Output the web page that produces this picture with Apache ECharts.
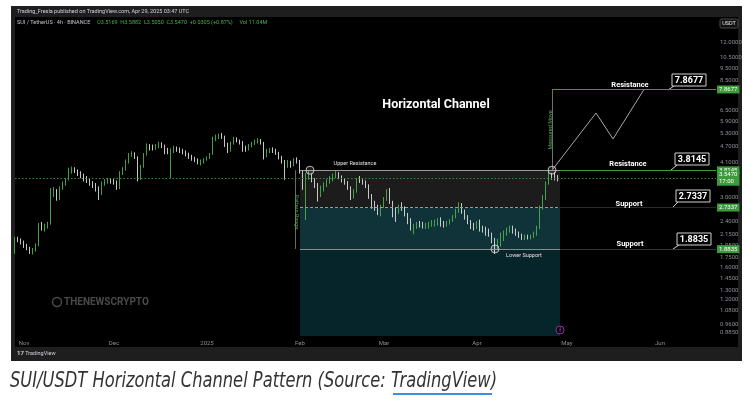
<!DOCTYPE html>
<html><head><meta charset="utf-8">
<script src="https://cdn.jsdelivr.net/npm/echarts@6/dist/echarts.min.js"></script>
<style>html,body{margin:0;padding:0;background:#fff}#c{width:750px;height:407px}</style>
</head><body><div id="c"></div>
<script>
// ---- daily candles ----
const dates = [
'2024-10-29','2024-10-30','2024-10-31',
'2024-11-01','2024-11-02','2024-11-03','2024-11-04','2024-11-05','2024-11-06','2024-11-07','2024-11-08','2024-11-09','2024-11-10',
'2024-11-11','2024-11-12','2024-11-13','2024-11-14','2024-11-15','2024-11-16','2024-11-17','2024-11-18','2024-11-19','2024-11-20',
'2024-11-21','2024-11-22','2024-11-23','2024-11-24','2024-11-25','2024-11-26','2024-11-27','2024-11-28','2024-11-29','2024-11-30',
'2024-12-01','2024-12-02','2024-12-03','2024-12-04','2024-12-05','2024-12-06','2024-12-07','2024-12-08','2024-12-09','2024-12-10',
'2024-12-11','2024-12-12','2024-12-13','2024-12-14','2024-12-15','2024-12-16','2024-12-17','2024-12-18','2024-12-19','2024-12-20',
'2024-12-21','2024-12-22','2024-12-23','2024-12-24','2024-12-25','2024-12-26','2024-12-27','2024-12-28','2024-12-29','2024-12-30','2024-12-31',
'2025-01-01','2025-01-02','2025-01-03','2025-01-04','2025-01-05','2025-01-06','2025-01-07','2025-01-08','2025-01-09','2025-01-10',
'2025-01-11','2025-01-12','2025-01-13','2025-01-14','2025-01-15','2025-01-16','2025-01-17','2025-01-18','2025-01-19','2025-01-20',
'2025-01-21','2025-01-22','2025-01-23','2025-01-24','2025-01-25','2025-01-26','2025-01-27','2025-01-28','2025-01-29','2025-01-30','2025-01-31',
'2025-02-01','2025-02-02','2025-02-03','2025-02-04','2025-02-05','2025-02-06','2025-02-07','2025-02-08','2025-02-09','2025-02-10',
'2025-02-11','2025-02-12','2025-02-13','2025-02-14','2025-02-15','2025-02-16','2025-02-17','2025-02-18','2025-02-19','2025-02-20',
'2025-02-21','2025-02-22','2025-02-23','2025-02-24','2025-02-25','2025-02-26','2025-02-27','2025-02-28',
'2025-03-01','2025-03-02','2025-03-03','2025-03-04','2025-03-05','2025-03-06','2025-03-07','2025-03-08','2025-03-09','2025-03-10',
'2025-03-11','2025-03-12','2025-03-13','2025-03-14','2025-03-15','2025-03-16','2025-03-17','2025-03-18','2025-03-19','2025-03-20',
'2025-03-21','2025-03-22','2025-03-23','2025-03-24','2025-03-25','2025-03-26','2025-03-27','2025-03-28','2025-03-29','2025-03-30','2025-03-31',
'2025-04-01','2025-04-02','2025-04-03','2025-04-04','2025-04-05','2025-04-06','2025-04-07','2025-04-08','2025-04-09','2025-04-10',
'2025-04-11','2025-04-12','2025-04-13','2025-04-14','2025-04-15','2025-04-16','2025-04-17','2025-04-18','2025-04-19','2025-04-20',
'2025-04-21','2025-04-22','2025-04-23','2025-04-24','2025-04-25','2025-04-26','2025-04-27','2025-04-28'];
const opens = [1.98,2.06,2.03,2.00,1.94,1.89,1.85,1.87,1.95,2.30,2.28,2.31,2.36,3.12,3.18,2.98,3.25,3.38,3.50,3.80,3.85,3.78,3.72,3.62,3.55,3.48,3.40,3.33,3.25,3.10,3.40,3.46,3.50,3.44,3.42,3.30,3.72,3.84,4.12,4.38,4.42,4.28,3.75,3.95,4.40,4.75,4.68,4.62,4.76,4.84,4.74,4.58,4.50,4.52,4.66,4.60,4.56,4.48,4.40,4.30,4.24,4.18,4.10,4.12,4.20,4.28,4.40,5.08,5.15,5.20,5.12,4.80,4.60,4.85,5.05,4.96,4.88,4.68,4.62,4.76,4.86,4.95,4.98,4.85,4.35,4.55,4.58,4.55,4.46,4.28,4.12,3.95,4.08,4.00,4.18,4.15,3.75,3.30,3.60,3.62,3.50,3.32,3.05,3.26,3.35,3.45,3.55,3.62,3.68,3.58,3.48,3.40,3.25,3.00,3.18,3.50,3.46,3.42,3.32,3.02,2.80,2.74,2.62,2.76,2.95,3.18,2.86,2.64,2.62,2.74,2.72,2.56,2.40,2.28,2.30,2.36,2.34,2.32,2.34,2.36,2.38,2.40,2.44,2.36,2.33,2.39,2.44,2.52,2.65,2.80,2.64,2.52,2.40,2.32,2.30,2.38,2.28,2.25,2.22,2.16,2.02,1.95,1.98,2.12,2.20,2.24,2.28,2.20,2.16,2.12,2.08,2.10,2.08,2.12,2.16,2.28,2.72,2.98,3.40,3.65,3.60,3.55];
const closes = [2.06,2.03,2.00,1.94,1.89,1.85,1.87,1.95,2.30,2.28,2.31,2.36,3.12,3.18,2.98,3.25,3.38,3.50,3.80,3.85,3.78,3.72,3.62,3.55,3.48,3.40,3.33,3.25,3.10,3.40,3.46,3.50,3.44,3.42,3.30,3.72,3.84,4.12,4.38,4.42,4.28,3.75,3.95,4.40,4.75,4.68,4.62,4.76,4.84,4.74,4.58,4.50,4.52,4.66,4.60,4.56,4.48,4.40,4.30,4.24,4.18,4.10,4.12,4.20,4.28,4.40,5.08,5.15,5.20,5.12,4.80,4.60,4.85,5.05,4.96,4.88,4.68,4.62,4.76,4.86,4.95,4.98,4.85,4.35,4.55,4.58,4.55,4.46,4.28,4.12,3.95,4.08,4.00,4.18,4.15,3.75,3.30,3.60,3.62,3.50,3.32,3.05,3.26,3.35,3.45,3.55,3.62,3.68,3.58,3.48,3.40,3.25,3.00,3.18,3.50,3.46,3.42,3.32,3.02,2.80,2.74,2.62,2.76,2.95,3.18,2.86,2.64,2.62,2.74,2.72,2.56,2.40,2.28,2.30,2.36,2.34,2.32,2.34,2.36,2.38,2.40,2.44,2.36,2.33,2.39,2.44,2.52,2.65,2.80,2.64,2.52,2.40,2.32,2.30,2.38,2.28,2.25,2.22,2.16,2.02,1.95,1.98,2.12,2.20,2.24,2.28,2.20,2.16,2.12,2.08,2.10,2.08,2.12,2.16,2.28,2.72,2.98,3.40,3.65,3.60,3.55,3.547];
const lows = [1.80,2.00,1.96,1.90,1.86,1.80,1.79,1.84,1.93,2.22,2.20,2.26,2.34,3.00,2.90,2.92,3.20,3.32,3.48,3.70,3.72,3.62,3.55,3.45,3.40,3.32,3.25,3.15,2.92,3.05,3.32,3.38,3.38,3.35,3.20,3.22,3.65,3.80,4.05,4.30,4.22,3.45,3.50,3.90,4.35,4.55,4.55,4.58,4.65,4.65,4.40,4.40,3.55,4.45,4.50,4.45,4.40,4.32,4.22,4.15,4.10,4.02,3.98,4.05,4.15,4.22,4.38,4.95,5.05,5.05,4.70,4.45,4.50,4.80,4.90,4.80,4.50,4.50,4.55,4.68,4.78,4.85,4.80,4.20,4.28,4.45,4.45,4.38,4.20,4.05,3.50,3.90,3.90,3.95,4.05,3.70,3.20,2.44,3.50,3.42,3.25,2.88,3.00,3.15,3.28,3.38,3.45,3.55,3.52,3.42,3.35,3.20,2.92,2.96,3.12,3.40,3.35,3.25,2.95,2.70,2.65,2.55,2.52,2.72,2.90,2.82,2.50,2.40,2.58,2.65,2.52,2.35,2.22,2.15,2.25,2.28,2.26,2.25,2.26,2.30,2.30,2.32,2.30,2.28,2.30,2.34,2.40,2.48,2.60,2.58,2.45,2.35,2.25,2.22,2.25,2.20,2.18,2.12,2.10,1.98,1.80,1.88,1.92,2.02,2.12,2.18,2.16,2.12,2.08,2.04,2.04,2.05,2.05,2.08,2.12,2.25,2.68,2.92,3.35,3.50,3.48,3.45];
const highs = [2.10,2.10,2.07,2.03,1.97,1.92,1.90,1.98,2.38,2.40,2.36,2.40,3.25,3.28,3.22,3.30,3.45,3.55,3.90,3.94,3.92,3.84,3.78,3.70,3.62,3.55,3.46,3.40,3.30,3.45,3.52,3.56,3.55,3.52,3.48,3.78,3.92,4.20,4.45,4.52,4.48,4.32,4.00,4.45,4.85,4.82,4.80,4.82,4.92,4.90,4.80,4.66,4.64,4.75,4.72,4.68,4.62,4.55,4.46,4.38,4.30,4.24,4.20,4.25,4.32,4.45,5.15,5.25,5.30,5.33,5.20,4.88,4.92,5.15,5.12,5.02,4.95,4.75,4.82,4.92,5.02,5.08,5.05,4.92,4.62,4.65,4.68,4.62,4.50,4.34,4.18,4.18,4.15,4.25,4.28,4.18,3.80,3.72,3.80,3.70,3.55,3.40,3.32,3.42,3.52,3.62,3.70,3.78,3.75,3.64,3.55,3.46,3.30,3.22,3.55,3.62,3.52,3.48,3.36,3.08,2.90,2.80,2.80,3.00,3.22,3.25,2.90,2.72,2.80,2.86,2.76,2.60,2.48,2.36,2.40,2.42,2.40,2.38,2.40,2.44,2.45,2.48,2.50,2.42,2.42,2.46,2.55,2.70,2.86,2.84,2.68,2.55,2.44,2.38,2.42,2.45,2.32,2.30,2.26,2.18,2.08,2.06,2.18,2.22,2.28,2.32,2.32,2.26,2.20,2.16,2.14,2.14,2.14,2.20,2.32,2.78,3.05,3.45,3.82,3.72,3.75,3.65];

// ---- price axis tick labels ----
const yTickValues = [12, 10.5, 9.5, 8.5, 6.5, 5.9, 5.3, 4.7, 4.1, 3.0, 2.4, 2.15, 1.95, 1.75, 1.6, 1.45, 1.3, 1.2, 1.08, 0.96, 0.885];
// ---- time axis labels by month index ----
const monthLabels = ['2025','Feb','Mar','Apr','May','Jun','Jul','Aug','Sep','Oct','Nov','Dec'];

// ---- drawn levels ----
const resistanceHigh = 7.8677;
const resistanceLow = 3.8145;
const supportHigh = 2.7337;
const supportLow = 1.8835;
const lastPrice = 3.547;
const rangeStart = '2025-02-01';
const rangeEnd = '2025-04-28 16:00';
const patternDate = '2025-01-30 08:00';
const moveDate = '2025-04-26';
const touchDates = ['2025-02-04 08:00', '2025-04-26', '2025-04-07'];
const touchValues = [3.8145, 3.8145, 1.8835];
const projDates = ['2025-04-26', '2025-05-10 16:00', '2025-05-16 08:00', '2025-05-26 16:00'];
const projValues = [3.8145, 6.37, 5.05, 7.8677];

const X_MIN = '2024-10-29', X_MAX = '2025-06-19 16:00';
const Y_MIN = 0.8626, Y_MAX = 15.07;
const UP = '#4caf50', DOWN = '#dcdcdc', TAG = '#3d9a3d';
const FONT = 'Roboto, "Liberation Sans", sans-serif';
const CLEAR = 'rgba(0,0,0,0)';

const candleData = dates.map((d, i) => [d, opens[i], closes[i], lows[i], highs[i]]);

const chart = echarts.init(document.getElementById('c'));

function tag(v, text) {
  return { yAxis: v, lineStyle: { color: CLEAR, width: 0 },
    label: { show: true, position: 'end', distance: 1, formatter: text, color: '#fff', backgroundColor: TAG,
      padding: [1, 2, 0, 2], fontSize: 6, fontFamily: FONT, lineHeight: 7 } };
}
function seg(x1, v1, x2, v2, style) {
  return [{ coord: [x1, v1], lineStyle: style, label: { show: false } }, { coord: [x2, v2] }];
}

function callout(x, y, text, tx, ty) {
  return { type: 'group', z: 60, children: [
    { type: 'line', shape: { x1: x + 2, y1: y + 12, x2: tx, y2: ty }, style: { stroke: '#d0d0d0', lineWidth: 1 } },
    { type: 'rect', shape: { x: x, y: y, width: 34, height: 12 }, style: { fill: '#000', stroke: '#d0d0d0', lineWidth: 1 } },
    { type: 'text', x: x + 17, y: y + 6.5, style: { text: text, fill: '#fff', font: 'bold 9px ' + FONT, align: 'center', verticalAlign: 'middle' } }
  ] };
}
function txt(x, y, text, size, color, extra) {
  return Object.assign({ type: 'text', x: x, y: y, z: 60,
    style: { text: text, fill: color, font: size, align: 'center', verticalAlign: 'middle' } }, extra || {});
}

chart.setOption({
  animation: false,
  backgroundColor: '#fff',
  grid: { left: 15, right: 34, top: 17, bottom: 71 },
  xAxis: {
    type: 'time', min: X_MIN, max: X_MAX, splitNumber: 8,
    minInterval: 28 * 86400000, maxInterval: 31 * 86400000,
    axisLine: { show: false }, axisTick: { show: false }, splitLine: { show: false },
    axisLabel: { color: '#8b8e96', fontSize: 6, fontFamily: FONT, margin: 4, hideOverlap: false,
      formatter: function (val) { return monthLabels[new Date(val).getMonth()]; } }
  },
  yAxis: {
    type: 'log', logBase: 10, min: Y_MIN, max: Y_MAX, position: 'right',
    axisLine: { show: false }, axisTick: { show: false }, splitLine: { show: false },
    axisLabel: { show: false }
  },
  graphic: { elements: [
    { type: 'rect', z: -10, shape: { x: 11, y: 6, width: 731, height: 355 }, style: { fill: '#1e1e1e' } },
    { type: 'rect', z: -9, shape: { x: 15, y: 17, width: 723, height: 330 }, style: { fill: '#000' } },
    { type: 'text', x: 17, y: 11.5, z: 60, style: { text: 'Trading_Fresla published on TradingView.com, Apr 29, 2025 03:47 UTC', fill: '#d1d4dc', font: '5.5px ' + FONT, align: 'left', verticalAlign: 'middle' } },
    { type: 'text', x: 17, y: 23, z: 60, style: {
      text: '{a|SUI / TetherUS · 4h · BINANCE}  {g|O3.5169  H3.5882  L3.5050  C3.5470  +0.0305 (+0.87%)}  {g|Vol 11.04M}',
      verticalAlign: 'middle', align: 'left',
      rich: { a: { fill: '#c0c3cb', font: '5.5px ' + FONT }, g: { fill: UP, font: '5.5px ' + FONT } } } },
    { type: 'rect', z: 60, shape: { x: 720, y: 19, width: 18, height: 9, r: 1.5 }, style: { fill: '#111', stroke: '#4a4a4a', lineWidth: 1 } },
    txt(729, 23.5, 'USDT', '5.5px ' + FONT, '#e0e0e0'),
    txt(436, 105, 'Horizontal Channel', 'bold 12.5px ' + FONT, '#fff'),
    txt(355, 164, 'Upper Resistance', '5.5px ' + FONT, '#e0e0e0'),
    txt(524, 256, 'Lower Support', '5.5px ' + FONT, '#e0e0e0'),
    txt(296, 212, 'Pattern Range', '5.5px ' + FONT, UP, { rotation: -Math.PI / 2 }),
    txt(551, 130, 'Measured Move', '5.5px ' + FONT, UP, { rotation: Math.PI / 2 }),
    txt(630, 85, 'Resistance', 'bold 7.5px ' + FONT, '#fff'),
    txt(628, 164, 'Resistance', 'bold 7.5px ' + FONT, '#fff'),
    txt(629, 204, 'Support', 'bold 7.5px ' + FONT, '#fff'),
    txt(630, 244, 'Support', 'bold 7.5px ' + FONT, '#fff'),
    callout(672, 74, '7.8677', 668, 90),
    callout(675, 153, '3.8145', 671, 170),
    callout(676, 190, '2.7337', 672, 208),
    callout(677, 233, '1.8835', 673, 249),
    { type: 'group', z: 60, children: [
      { type: 'rect', shape: { x: 409, y: 229, width: 42, height: 17, r: 1 }, style: { fill: '#fff' } },
      { type: 'line', shape: { x1: 413, y1: 231, x2: 413, y2: 244 }, style: { stroke: UP, lineWidth: 1 } },
      { type: 'text', x: 416, y: 234, style: { text: '517 bars, 86d 4h', fill: '#111', font: '5px ' + FONT, verticalAlign: 'middle' } },
      { type: 'text', x: 420, y: 241.5, style: { text: 'Vol 7.67B', fill: '#111', font: '5px ' + FONT, verticalAlign: 'middle' } }
    ] },
    { type: 'circle', z: 60, shape: { cx: 57, cy: 302, r: 4.5 }, style: { fill: 'none', stroke: '#4a4a4a', lineWidth: 1.5 } },
    { type: 'text', x: 64, y: 302, z: 60, style: { text: 'THENEWSCRYPTO', fill: '#4a4a4a', font: 'bold 10px ' + FONT, verticalAlign: 'middle' } },
    { type: 'circle', z: 60, shape: { cx: 560, cy: 330, r: 4 }, style: { fill: '#000', stroke: '#9c27b0', lineWidth: 1 } },
    txt(560, 330.5, 'f', '5px ' + FONT, '#c060d0'),
    { type: 'text', x: 17, y: 353.5, z: 60, style: { text: '{l|17} TradingView', fill: '#d1d4dc', font: '5.5px ' + FONT, verticalAlign: 'middle',
      rich: { l: { font: 'bold 6px ' + FONT, fill: '#d1d4dc' } } } },
    { type: 'text', x: 10, y: 382, z: 60, scaleX: 0.862, style: { text: 'SUI/USDT Horizontal Channel Pattern (Source: TradingView)', fill: '#333',
      font: 'italic 21px "Liberation Sans Narrow", "DejaVu Sans Condensed", Roboto, sans-serif', verticalAlign: 'middle' } },
    { type: 'rect', z: 60, shape: { x: 393, y: 393, width: 99, height: 2 }, style: { fill: '#3b8ee6' } }
  ] },
  series: [
    { type: 'scatter', data: [], z: 1, silent: true,
      markArea: { silent: true, data: [
        [{ coord: [rangeStart, resistanceLow], itemStyle: { color: '#1c1c1c' } }, { coord: [rangeEnd, supportHigh] }],
        [{ coord: [rangeStart, supportHigh], itemStyle: { color: '#0f3338' } }, { coord: [rangeEnd, supportLow] }],
        [{ coord: [rangeStart, supportLow], itemStyle: { color: '#05252b' } }, { coord: [rangeEnd, Y_MIN] }]
      ] } },
    { type: 'candlestick', z: 3, barWidth: 1.2, data: candleData, silent: true,
      itemStyle: { color: UP, color0: DOWN, borderColor: UP, borderColor0: DOWN, borderWidth: 0.9 } },
    { type: 'line', z: 4, data: projDates.map((d, i) => [d, projValues[i]]), symbol: 'none', silent: true,
      lineStyle: { color: '#a8a8a8', width: 1 } },
    { type: 'scatter', z: 5, data: touchDates.map((d, i) => [d, touchValues[i]]), symbol: 'circle', symbolSize: 8, silent: true,
      itemStyle: { color: 'rgba(255,255,255,0.12)', borderColor: '#e0e0e0', borderWidth: 1 } },
    { type: 'scatter', data: [], z: 4, silent: true,
      markLine: { silent: true, symbol: 'none', data: [
        { yAxis: lastPrice, lineStyle: { color: '#2f8f2f', type: [1.5, 2], width: 1 }, label: { show: false } },
        seg(rangeStart, resistanceLow, rangeEnd, resistanceLow, { color: '#9a9a9a', type: 'solid', width: 1 }),
        seg(rangeEnd, resistanceLow, X_MAX, resistanceLow, { color: '#3c9c3c', type: 'solid', width: 1 }),
        seg(moveDate, resistanceHigh, X_MAX, resistanceHigh, { color: '#3c9c3c', type: 'solid', width: 1 }),
        seg(rangeStart, supportHigh, rangeEnd, supportHigh, { color: '#9a9a9a', type: [3, 2], width: 1 }),
        seg(rangeEnd, supportHigh, X_MAX, supportHigh, { color: '#2a2a2a', type: 'solid', width: 1 }),
        seg(rangeStart, supportLow, rangeEnd, supportLow, { color: '#8a8a8a', type: 'solid', width: 1 }),
        seg(rangeEnd, supportLow, X_MAX, supportLow, { color: '#353535', type: 'solid', width: 1 }),
        seg(moveDate, resistanceLow, moveDate, resistanceHigh, { color: '#707070', type: 'solid', width: 1 }),
        seg(patternDate, resistanceLow, patternDate, supportLow, { color: '#6a6a6a', type: 'solid', width: 1 })
      ] } },
    { type: 'line', data: [], z: 6, silent: true, clip: false,
      markLine: { silent: true, symbol: 'none', lineStyle: { color: CLEAR, width: 0 },
        label: { show: true, position: 'end', distance: 4, color: '#8b8e96', fontSize: 6, fontFamily: FONT },
        data: yTickValues.map(v => ({ yAxis: v, label: { formatter: v.toFixed(4) } })) } },
    { type: 'line', data: [], z: 7, silent: true, clip: false,
      markLine: { silent: true, symbol: 'none', data: [
        tag(resistanceHigh, '7.8677'), tag(resistanceLow, '3.8145'),
        tag(lastPrice, '3.5470\n17:00'), tag(supportHigh, '2.7337'), tag(supportLow, '1.8835')
      ] } }
  ]
});
</script></body></html>
